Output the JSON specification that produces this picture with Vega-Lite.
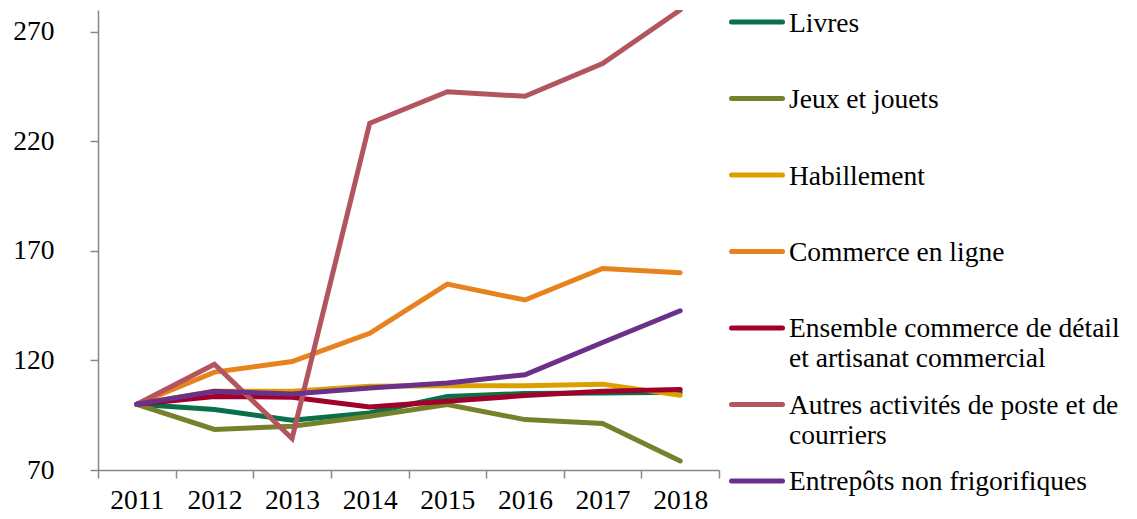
{
  "$schema": "https://vega.github.io/schema/vega-lite/v6.json",
  "background": "white",
  "padding": {"left": 12, "top": 9, "right": 0, "bottom": 0},
  "spacing": 9,
  "config": {"view": {"stroke": null}, "font": "Liberation Serif"},
  "datasets": {
    "series": [
      {"serie": "Livres", "annee": "2011", "valeur": 100},
      {"serie": "Livres", "annee": "2012", "valeur": 97.6},
      {"serie": "Livres", "annee": "2013", "valeur": 92.7},
      {"serie": "Livres", "annee": "2014", "valeur": 96},
      {"serie": "Livres", "annee": "2015", "valeur": 103.6},
      {"serie": "Livres", "annee": "2016", "valeur": 104.9},
      {"serie": "Livres", "annee": "2017", "valeur": 105.1},
      {"serie": "Livres", "annee": "2018", "valeur": 105.5},
      {"serie": "Jeux et jouets", "annee": "2011", "valeur": 100},
      {"serie": "Jeux et jouets", "annee": "2012", "valeur": 88.5},
      {"serie": "Jeux et jouets", "annee": "2013", "valeur": 90},
      {"serie": "Jeux et jouets", "annee": "2014", "valeur": 94.5},
      {"serie": "Jeux et jouets", "annee": "2015", "valeur": 99.9},
      {"serie": "Jeux et jouets", "annee": "2016", "valeur": 93},
      {"serie": "Jeux et jouets", "annee": "2017", "valeur": 91.2},
      {"serie": "Jeux et jouets", "annee": "2018", "valeur": 74.1},
      {"serie": "Habillement", "annee": "2011", "valeur": 100},
      {"serie": "Habillement", "annee": "2012", "valeur": 105.9},
      {"serie": "Habillement", "annee": "2013", "valeur": 106},
      {"serie": "Habillement", "annee": "2014", "valeur": 108.2},
      {"serie": "Habillement", "annee": "2015", "valeur": 108.5},
      {"serie": "Habillement", "annee": "2016", "valeur": 108.5},
      {"serie": "Habillement", "annee": "2017", "valeur": 109.2},
      {"serie": "Habillement", "annee": "2018", "valeur": 104.1},
      {"serie": "Commerce en ligne", "annee": "2011", "valeur": 100},
      {"serie": "Commerce en ligne", "annee": "2012", "valeur": 114.7},
      {"serie": "Commerce en ligne", "annee": "2013", "valeur": 119.5},
      {"serie": "Commerce en ligne", "annee": "2014", "valeur": 132.4},
      {"serie": "Commerce en ligne", "annee": "2015", "valeur": 154.9},
      {"serie": "Commerce en ligne", "annee": "2016", "valeur": 147.6},
      {"serie": "Commerce en ligne", "annee": "2017", "valeur": 162},
      {"serie": "Commerce en ligne", "annee": "2018", "valeur": 160.1},
      {"serie": "Ensemble commerce de détail et artisanat commercial", "annee": "2011", "valeur": 100},
      {"serie": "Ensemble commerce de détail et artisanat commercial", "annee": "2012", "valeur": 103.6},
      {"serie": "Ensemble commerce de détail et artisanat commercial", "annee": "2013", "valeur": 103.2},
      {"serie": "Ensemble commerce de détail et artisanat commercial", "annee": "2014", "valeur": 98.8},
      {"serie": "Ensemble commerce de détail et artisanat commercial", "annee": "2015", "valeur": 101.4},
      {"serie": "Ensemble commerce de détail et artisanat commercial", "annee": "2016", "valeur": 104},
      {"serie": "Ensemble commerce de détail et artisanat commercial", "annee": "2017", "valeur": 105.9},
      {"serie": "Ensemble commerce de détail et artisanat commercial", "annee": "2018", "valeur": 106.7},
      {"serie": "Autres activités de poste et de courriers", "annee": "2011", "valeur": 100},
      {"serie": "Autres activités de poste et de courriers", "annee": "2012", "valeur": 118.3},
      {"serie": "Autres activités de poste et de courriers", "annee": "2013", "valeur": 84.4},
      {"serie": "Autres activités de poste et de courriers", "annee": "2014", "valeur": 228.3},
      {"serie": "Autres activités de poste et de courriers", "annee": "2015", "valeur": 242.7},
      {"serie": "Autres activités de poste et de courriers", "annee": "2016", "valeur": 240.6},
      {"serie": "Autres activités de poste et de courriers", "annee": "2017", "valeur": 255.5},
      {"serie": "Autres activités de poste et de courriers", "annee": "2018", "valeur": 280},
      {"serie": "Entrepôts non frigorifiques", "annee": "2011", "valeur": 100},
      {"serie": "Entrepôts non frigorifiques", "annee": "2012", "valeur": 105.9},
      {"serie": "Entrepôts non frigorifiques", "annee": "2013", "valeur": 104.7},
      {"serie": "Entrepôts non frigorifiques", "annee": "2014", "valeur": 107.4},
      {"serie": "Entrepôts non frigorifiques", "annee": "2015", "valeur": 109.7},
      {"serie": "Entrepôts non frigorifiques", "annee": "2016", "valeur": 113.5},
      {"serie": "Entrepôts non frigorifiques", "annee": "2017", "valeur": 128.2},
      {"serie": "Entrepôts non frigorifiques", "annee": "2018", "valeur": 142.7}
    ],
    "legende": [
      {"serie": "Livres", "libelle": "Livres"},
      {"serie": "Jeux et jouets", "libelle": "Jeux et jouets"},
      {"serie": "Habillement", "libelle": "Habillement"},
      {"serie": "Commerce en ligne", "libelle": "Commerce en ligne"},
      {"serie": "Ensemble commerce de détail et artisanat commercial", "libelle": "Ensemble commerce de détail\net artisanat commercial"},
      {"serie": "Autres activités de poste et de courriers", "libelle": "Autres activités de poste et de\ncourriers"},
      {"serie": "Entrepôts non frigorifiques", "libelle": "Entrepôts non frigorifiques"}
    ]
  },
  "hconcat": [
    {
      "width": 621,
      "height": 460,
      "data": {"name": "series"},
      "mark": {"type": "line", "strokeWidth": 5, "strokeCap": "round", "clip": true},
      "encoding": {
        "x": {
          "field": "annee", "type": "ordinal",
          "scale": {"type": "band", "paddingInner": 0, "paddingOuter": 0},
          "axis": {
            "title": null, "labelAngle": 0, "tickBand": "extent",
            "domainColor": "#888888", "tickColor": "#888888", "domainWidth": 1.5, "tickWidth": 1.5,
            "tickSize": 8, "labelFontSize": 27.5, "labelColor": "#000000", "labelPadding": 8,
            "labelFont": "Liberation Serif"
          }
        },
        "y": {
          "field": "valeur", "type": "quantitative",
          "scale": {"domain": [70, 280], "nice": false, "zero": false},
          "axis": {
            "title": null, "values": [70, 120, 170, 220, 270], "grid": false,
            "domainColor": "#888888", "tickColor": "#888888", "domainWidth": 1.5, "tickWidth": 1.5,
            "tickSize": 8, "labelFontSize": 27.5, "labelColor": "#000000", "labelPadding": 36,
            "labelFont": "Liberation Serif"
          }
        },
        "color": {
          "field": "serie", "type": "nominal", "legend": null,
          "scale": {
            "domain": ["Livres", "Jeux et jouets", "Habillement", "Commerce en ligne", "Ensemble commerce de détail et artisanat commercial", "Autres activités de poste et de courriers", "Entrepôts non frigorifiques"],
            "range": ["#0a7048", "#77812b", "#daa000", "#e7821d", "#a0002a", "#b2555e", "#6b3089"]
          }
        },
        "order": {"field": "annee"}
      }
    },
    {
      "width": 400,
      "height": 483,
      "data": {"name": "legende"},
      "encoding": {
        "y": {
          "field": "serie", "type": "nominal",
          "scale": {"type": "point", "padding": 0.157, "domain": ["Livres", "Jeux et jouets", "Habillement", "Commerce en ligne", "Ensemble commerce de détail et artisanat commercial", "Autres activités de poste et de courriers", "Entrepôts non frigorifiques"]},
          "axis": null
        }
      },
      "layer": [
        {
          "mark": {"type": "rule", "strokeWidth": 5, "strokeCap": "round"},
          "encoding": {
            "x": {"datum": 2.5, "type": "quantitative", "scale": {"domain": [0, 400], "nice": false, "zero": true}, "axis": null},
            "x2": {"datum": 53.5},
            "color": {"field": "serie", "type": "nominal", "legend": null}
          }
        },
        {
          "mark": {"type": "text", "align": "left", "baseline": "alphabetic", "dy": 9.5, "fontSize": 27.5, "lineHeight": 30, "lineBreak": "\n", "font": "Liberation Serif", "color": "#000000"},
          "encoding": {
            "x": {"datum": 60, "type": "quantitative"},
            "text": {"field": "libelle"}
          }
        }
      ]
    }
  ]
}
